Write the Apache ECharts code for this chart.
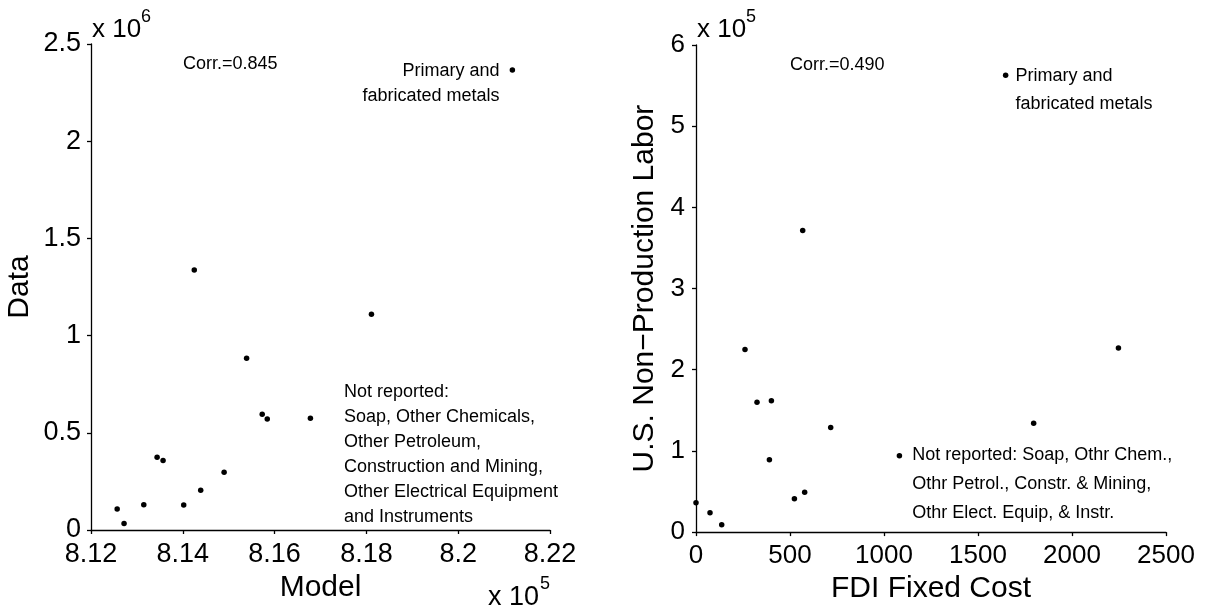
<!DOCTYPE html>
<html>
<head>
<meta charset="utf-8">
<script src="https://cdn.jsdelivr.net/npm/echarts@6/dist/echarts.min.js"></script>
<style>
  html, body { margin: 0; padding: 0; background: #fff; }
  #chart { width: 1206px; height: 609px; }
</style>
</head>
<body>
<div id="chart"></div>
<script>
// left panel: model vs data (x in 1e5, y in 1e6)
const modelVals = [8.1257, 8.1272, 8.1315, 8.1344, 8.1357, 8.1402, 8.1425, 8.1439, 8.1490, 8.1539, 8.1573, 8.1584, 8.1678, 8.1811, 8.2118];
const dataVals = [0.108, 0.034, 0.130, 0.374, 0.358, 0.129, 1.337, 0.204, 0.297, 0.883, 0.595, 0.571, 0.575, 1.110, 2.366];
const leftXTicks = [8.12, 8.22, 0.02];
const leftYTicks = [0, 2.5, 0.5];

// right panel: FDI fixed cost vs U.S. non-production labor (y in 1e5)
const fdiCost = [0, 74.5, 136.7, 260.6, 324.5, 390.4, 401, 523.4, 567.6, 578, 716.5, 1082, 1796, 2247, 1647];
const nonProdLabor = [0.363, 0.237, 0.090, 2.248, 1.598, 0.890, 1.619, 0.412, 3.716, 0.490, 1.287, 0.940, 1.340, 2.268, 5.628];
const rightXTicks = [0, 2500, 500];
const rightYTicks = [0, 6, 1];

const FONT = "'Liberation Sans', Arial, Helvetica, sans-serif";
const primaryText = "Primary and\nfabricated metals";
const notReportedLeft = "Not reported:\nSoap, Other Chemicals,\nOther Petroleum,\nConstruction and Mining,\nOther Electrical Equipment\nand Instruments";
const notReportedRight = "Not reported: Soap, Othr Chem.,\nOthr Petrol., Constr. & Mining,\nOthr Elect. Equip, & Instr.";

const chart = echarts.init(document.getElementById("chart"));

function axisBase(range, fontSize, margin) {
  return {
    type: "value",
    min: range[0],
    max: range[1],
    interval: range[2],
    splitLine: { show: false },
    axisLine: { show: true, onZero: false, lineStyle: { color: "#000", width: 1.3 } },
    axisTick: { show: true, inside: false, length: 4, lineStyle: { color: "#000", width: 1.3 } },
    axisLabel: { color: "#000", fontSize: fontSize, fontFamily: FONT, margin: margin, formatter: v => String(+v.toFixed(4)) },
    nameTextStyle: { color: "#000", fontSize: 30, fontFamily: FONT }
  };
}

const leftPoints = modelVals.map((x, i) => {
  const p = { value: [x, dataVals[i]] };
  if (i === modelVals.length - 1) {
    p.label = {
      show: true, position: "left", distance: 10, offset: [0, 13],
      formatter: primaryText, lineHeight: 25, fontSize: 18, fontFamily: FONT, color: "#000"
    };
  }
  return p;
});

const rightPoints = fdiCost.map((x, i) => {
  const p = { value: [x, nonProdLabor[i]] };
  if (i === fdiCost.length - 1) {
    p.label = {
      show: true, position: "right", distance: 7, offset: [0, 14.5],
      formatter: primaryText, lineHeight: 28, fontSize: 18, fontFamily: FONT, color: "#000"
    };
  }
  if (i === 11) {
    p.label = {
      show: true, position: "right", distance: 10, offset: [0, 28.5],
      formatter: notReportedRight, lineHeight: 29, fontSize: 18, fontFamily: FONT, color: "#000"
    };
  }
  return p;
});

chart.setOption({
  animation: false,
  backgroundColor: "#fff",
  grid: [
    { left: 91, top: 44, width: 459, height: 486 },
    { left: 696, top: 45, width: 470, height: 489 }
  ],
  xAxis: [
    Object.assign(axisBase(leftXTicks, 27, 11), {
      gridIndex: 0, name: "Model", nameLocation: "middle", nameGap: 39
    }),
    Object.assign(axisBase(rightXTicks, 26, 11), {
      gridIndex: 1, name: "FDI Fixed Cost", nameLocation: "middle", nameGap: 40
    })
  ],
  yAxis: [
    Object.assign(axisBase(leftYTicks, 27, 10), {
      gridIndex: 0, name: "Data", nameLocation: "middle", nameGap: 56
    }),
    Object.assign(axisBase(rightYTicks, 26, 11), {
      gridIndex: 1, name: "U.S. Non\u2212Production Labor", nameLocation: "middle", nameGap: 36
    })
  ],
  series: [
    {
      type: "scatter", xAxisIndex: 0, yAxisIndex: 0,
      symbol: "circle", symbolSize: 5.5,
      itemStyle: { color: "#000", opacity: 1 },
      data: leftPoints
    },
    {
      type: "scatter", xAxisIndex: 1, yAxisIndex: 1,
      symbol: "circle", symbolSize: 5.5,
      itemStyle: { color: "#000", opacity: 1 },
      data: rightPoints
    }
  ],
  graphic: [
    { type: "text", left: 92, top: 17, style: { text: "x 10", fontSize: 26, fontFamily: FONT, fill: "#000" } },
    { type: "text", left: 141, top: 8, style: { text: "6", fontSize: 18, fontFamily: FONT, fill: "#000" } },
    { type: "text", left: 488, top: 584, style: { text: "x 10", fontSize: 27, fontFamily: FONT, fill: "#000" } },
    { type: "text", left: 540, top: 575, style: { text: "5", fontSize: 18, fontFamily: FONT, fill: "#000" } },
    { type: "text", left: 697, top: 17, style: { text: "x 10", fontSize: 26, fontFamily: FONT, fill: "#000" } },
    { type: "text", left: 746, top: 8, style: { text: "5", fontSize: 18, fontFamily: FONT, fill: "#000" } },
    { type: "text", left: 183, top: 55, style: { text: "Corr.=0.845", fontSize: 18, fontFamily: FONT, fill: "#000" } },
    { type: "text", left: 790, top: 56, style: { text: "Corr.=0.490", fontSize: 18, fontFamily: FONT, fill: "#000" } },
    { type: "text", left: 344, top: 380, style: { text: notReportedLeft, fontSize: 18, lineHeight: 25, fontFamily: FONT, fill: "#000" } }
  ]
});
</script>
</body>
</html>
